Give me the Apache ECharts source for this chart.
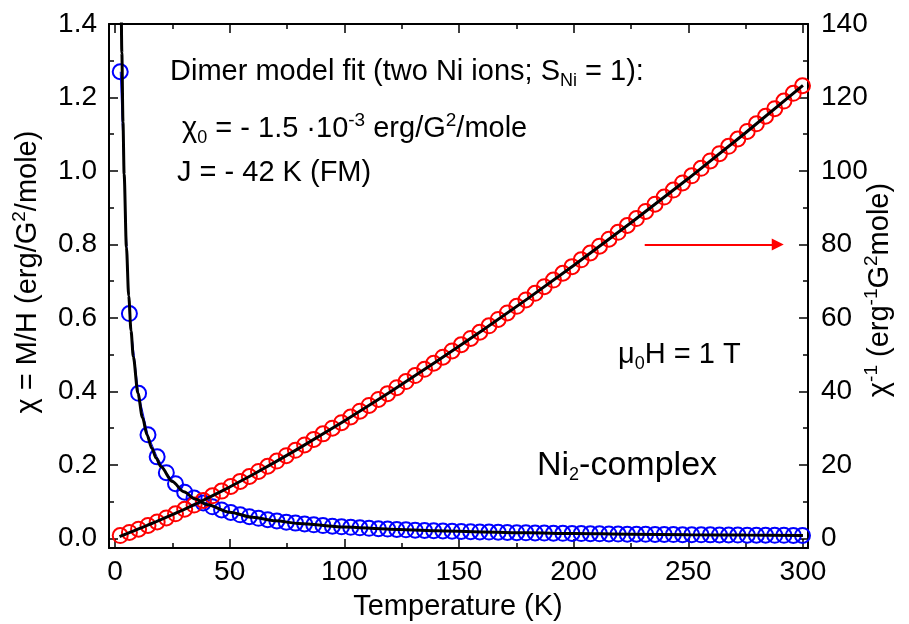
<!DOCTYPE html>
<html><head><meta charset="utf-8">
<script src="https://cdn.jsdelivr.net/npm/echarts@6/dist/echarts.min.js"></script>
<style>html,body{margin:0;padding:0;background:#fff}#c{width:909px;height:624px}</style>
</head><body><div id="c"></div>
<script>
// ---- data ----
const temperature = [2.3,6.3,10.3,14.4,18.4,22.4,26.4,30.4,34.5,38.5,42.5,46.5,50.5,54.6,58.6,62.6,66.6,70.6,74.7,78.7,82.7,86.7,90.7,94.8,98.8,102.8,106.8,110.8,114.9,118.9,122.9,126.9,130.9,135.0,139.0,143.0,147.0,151.0,155.1,159.1,163.1,167.1,171.1,175.2,179.2,183.2,187.2,191.2,195.3,199.3,203.3,207.3,211.3,215.4,219.4,223.4,227.4,231.4,235.5,239.5,243.5,247.5,251.5,255.6,259.6,263.6,267.6,271.6,275.7,279.7,283.7,287.7,291.7,295.8,299.8];
const chiData = [1.27,0.612,0.395,0.282,0.222,0.179,0.149,0.126,0.110,0.0965,0.0861,0.0776,0.0706,0.0644,0.0593,0.0548,0.0509,0.0475,0.0444,0.0417,0.0393,0.0371,0.0351,0.0333,0.0317,0.0303,0.0289,0.0276,0.0264,0.0254,0.0244,0.0234,0.0226,0.0217,0.0210,0.0203,0.0196,0.0190,0.0184,0.0178,0.0173,0.0168,0.0163,0.0158,0.0154,0.0150,0.0146,0.0142,0.0139,0.0135,0.01319,0.01287,0.01257,0.01228,0.01200,0.01174,0.01149,0.01124,0.01099,0.01077,0.01055,0.01034,0.01013,0.00993,0.00973,0.00955,0.00937,0.00920,0.00903,0.00886,0.00870,0.00855,0.00840,0.00826,0.00812];
const invChiData = [0.787,1.634,2.53,3.55,4.50,5.59,6.71,7.94,9.09,10.36,11.61,12.88,14.16,15.53,16.86,18.24,19.64,21.05,22.53,23.98,25.46,26.96,28.46,30.0,31.5,33.05,34.63,36.21,37.83,39.41,41.03,42.68,44.33,46.02,47.67,49.34,51.03,52.71,54.44,56.12,57.86,59.61,61.37,63.16,64.92,66.71,68.52,70.32,72.17,73.97,75.82,77.68,79.54,81.45,83.31,85.17,87.06,88.99,90.96,92.89,94.81,96.74,98.69,100.73,102.73,104.72,106.72,108.71,110.77,112.83,114.89,116.96,119.02,121.13,123.2];
const fitT = [2,2.5,3,3.5,4,5,6,7,8,10,12,14,16,18,20,25,30,35,40,50,60,70,80,100,120,140,160,180,200,225,250,275,300];
const chiFit = [1.983,1.586,1.3215,1.1325,0.9908,0.7923,0.6600,0.5655,0.4946,0.3954,0.3291,0.2817,0.2460,0.2181,0.1957,0.1549,0.1273,0.1074,0.0924,0.0715,0.0577,0.0480,0.0409,0.0313,0.0251,0.0208,0.0177,0.01532,0.01346,0.01164,0.01021,0.009057,0.00811];
const invChiFit = [0.504,0.631,0.757,0.883,1.009,1.262,1.515,1.768,2.022,2.529,3.039,3.550,4.065,4.585,5.110,6.456,7.855,9.311,10.82,13.99,17.33,20.83,24.45,31.95,39.84,48.08,56.50,65.27,74.29,85.91,97.94,110.41,123.3];
const arrowFrom = [231, 80];
const arrowTo = [289, 80];

const xMajor = [0,50,100,150,200,250,300];
const xMinor = [25,75,125,175,225,275];
const leftMajor = [0,0.2,0.4,0.6,0.8,1.0,1.2,1.4];
const leftMinor = [0.1,0.3,0.5,0.7,0.9,1.1,1.3];
const rightMajor = [0,20,40,60,80,100,120,140];
const rightMinor = [10,30,50,70,90,110,130];

// ---- chart ----
const FF = '"Liberation Sans", Arial, sans-serif';
const FS = 28;
const AF = 29;
const xRange = {min: -2.6, max: 302.2};
const leftRange = {min: -0.026, max: 1.4};
const rightRange = {min: -2.6, max: 140};

function axis(pos, range, ticks, len, labels, line, fmt, margin) {
  return Object.assign({
    type: 'value', position: pos, scale: false,
    splitLine: {show: false},
    axisLine: {show: line, onZero: false, lineStyle: {color: '#000', width: 2}},
    axisTick: {show: true, inside: true, length: len, customValues: ticks, lineStyle: {color: '#000', width: 1.5}},
    axisLabel: labels ? {show: true, customValues: ticks, formatter: fmt, color: '#000', fontSize: FS, fontFamily: FF, margin: margin}
                      : {show: false}
  }, range);
}

const chart = echarts.init(document.getElementById('c'), null, {renderer: 'canvas'});
const pairs = (xs, ys) => xs.map((x, i) => [x, ys[i]]);

const richBase = {
  sub: {fontSize: 18, fontFamily: FF, lineHeight: 19, verticalAlign: 'bottom', fill: '#000', color: '#000'},
  sup: {fontSize: 19, fontFamily: FF, lineHeight: 20, verticalAlign: 'top', fill: '#000', color: '#000'}
};
function txt(x, y, text, size, rot) {
  return {
    type: 'text', x: x, y: y, rotation: rot || 0, silent: true,
    style: {text: text, fontSize: size || AF, fontFamily: FF, fill: '#000', lineHeight: 36,
            align: rot ? 'center' : 'left', verticalAlign: 'middle', rich: richBase}
  };
}

chart.setOption({
  animation: false,
  backgroundColor: '#fff',
  grid: {left: 109, top: 24, width: 699, height: 524, containLabel: false},
  xAxis: [
    axis('bottom', xRange, xMajor, 9, true, true, v => String(v), 10),
    axis('bottom', xRange, xMinor, 5, false, false),
    axis('top', xRange, xMajor, 9, false, true),
    axis('top', xRange, xMinor, 5, false, false)
  ],
  yAxis: [
    axis('left', leftRange, leftMajor, 9, true, true, v => v.toFixed(1), 12),
    axis('left', leftRange, leftMinor, 5, false, false),
    axis('right', rightRange, rightMajor, 9, true, true, v => String(v), 13),
    axis('right', rightRange, rightMinor, 5, false, false)
  ],
  series: [
    {type: 'line', xAxisIndex: 0, yAxisIndex: 0, data: pairs(temperature, chiData),
     symbol: 'circle', symbolSize: 15,
     itemStyle: {color: 'rgba(0,0,0,0)', borderColor: '#0000ff', borderWidth: 2},
     lineStyle: {color: '#0000ff', width: 1}, emphasis: {disabled: true}, z: 2},
    {type: 'line', xAxisIndex: 0, yAxisIndex: 2, data: pairs(temperature, invChiData),
     symbol: 'circle', symbolSize: 15,
     itemStyle: {color: 'rgba(0,0,0,0)', borderColor: '#ff0000', borderWidth: 2},
     lineStyle: {color: '#ff0000', width: 1}, emphasis: {disabled: true}, z: 3},
    {type: 'line', xAxisIndex: 0, yAxisIndex: 0, data: pairs(fitT, chiFit),
     showSymbol: false, smooth: 0.3, smoothMonotone: 'x',
     lineStyle: {color: '#000', width: 3}, emphasis: {disabled: true}, z: 4},
    {type: 'line', xAxisIndex: 0, yAxisIndex: 2, data: pairs(fitT, invChiFit),
     showSymbol: false, smooth: false,
     lineStyle: {color: '#000', width: 3}, emphasis: {disabled: true}, z: 4,
     markLine: {silent: true, symbol: ['none', 'triangle'], symbolSize: 12,
       label: {show: false}, lineStyle: {color: '#ff0000', width: 2, type: 'solid'},
       itemStyle: {color: '#ff0000'},
       emphasis: {disabled: true},
       data: [[{coord: arrowFrom}, {coord: arrowTo}]]}}
  ],
  graphic: [
    txt(170, 72, 'Dimer model fit (two Ni ions; S{sub|Ni} = 1):'),
    txt(182, 129, 'χ{sub|0} = - 1.5 ·10{sup|-3} erg/G{sup|2}/mole'),
    txt(177, 173, 'J = - 42 K (FM)'),
    txt(618, 355, 'μ{sub|0}H = 1 T'),
    txt(537, 466, 'Ni{sub|2}-complex', 34),
    txt(458, 607, 'Temperature (K)', AF, 0.0001),
    txt(28, 272, 'χ = M/H (erg/G{sup|2}/mole)', AF, Math.PI / 2),
    txt(880, 290, 'χ{sup|-1} (erg{sup|-1}G{sup|2}mole)', AF, Math.PI / 2)
  ]
});
</script></body></html>
